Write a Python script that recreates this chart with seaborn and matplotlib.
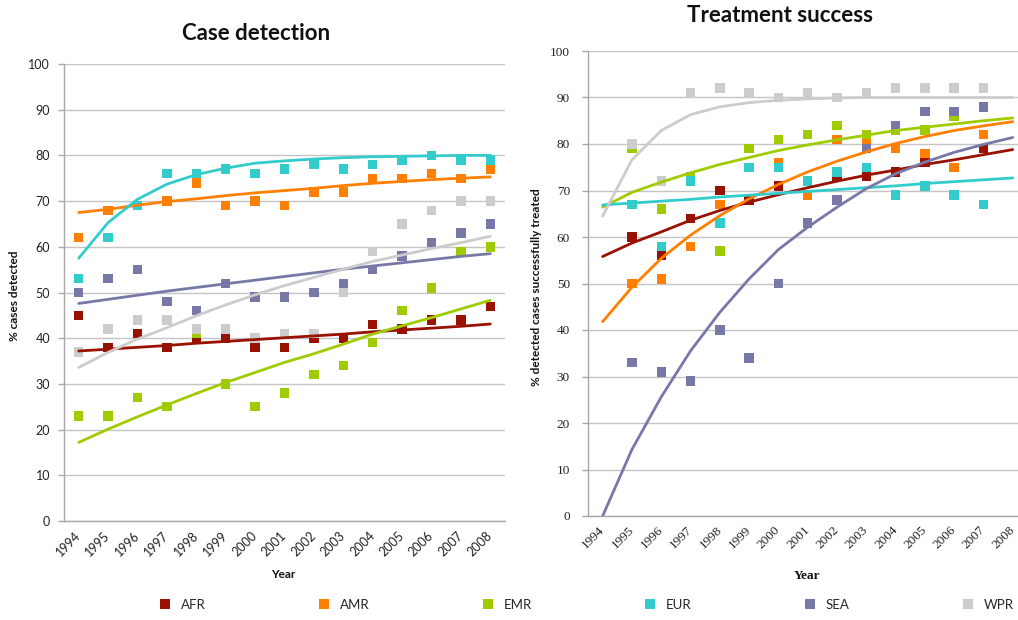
import numpy as np
import pandas as pd
import matplotlib
matplotlib.use("Agg")
import matplotlib.pyplot as plt
import seaborn as sns
from matplotlib.lines import Line2D
from matplotlib.ticker import FixedLocator

nan = np.nan

# ---------------- data ----------------
years = [str(y) for y in range(1994, 2009)]
regions = ["AFR", "AMR", "EMR", "EUR", "SEA", "WPR"]

# Case detection (% cases detected), 1994-2008
cd_afr = [45, 38, 41, 38, 40, 40, 38, 38, 40, 40, 43, 42, 44, 44, 47]
cd_amr = [62, 68, 69, 70, 74, 69, 70, 69, 72, 72, 75, 75, 76, 75, 77]
cd_emr = [23, 23, 27, 25, 41, 30, 25, 28, 32, 34, 39, 46, 51, 59, 60]
cd_eur = [53, 62, 69, 76, 76, 77, 76, 77, 78, 77, 78, 79, 80, 79, 79]
cd_sea = [50, 53, 55, 48, 46, 52, 49, 49, 50, 52, 55, 58, 61, 63, 65]
cd_wpr = [37, 42, 44, 44, 42, 42, 40, 41, 41, 50, 59, 65, 68, 70, 70]

# Case detection trend lines
cd_tr_afr = [37.2, 37.6, 38.0, 38.4, 38.9, 39.3, 39.7, 40.1, 40.5, 40.9, 41.4, 41.8, 42.2, 42.6, 43.1]
cd_tr_amr = [67.5, 68.2, 69.1, 69.9, 70.5, 71.2, 71.8, 72.3, 72.8, 73.4, 73.9, 74.3, 74.7, 75.0, 75.3]
cd_tr_emr = [17.2, 20.1, 22.8, 25.4, 27.9, 30.3, 32.5, 34.7, 36.6, 38.7, 40.9, 42.7, 44.5, 46.4, 48.3]
cd_tr_eur = [57.5, 65.3, 70.4, 73.7, 75.8, 77.2, 78.3, 78.8, 79.2, 79.5, 79.7, 79.8, 79.9, 80.0, 80.0]
cd_tr_sea = [47.6, 48.5, 49.4, 50.3, 51.1, 51.9, 52.7, 53.5, 54.3, 55.1, 55.8, 56.5, 57.2, 57.9, 58.5]
cd_tr_wpr = [33.6, 36.9, 39.8, 42.3, 44.9, 47.3, 49.5, 51.5, 53.3, 55.1, 56.8, 58.2, 59.6, 60.9, 62.3]

# Treatment success (% detected cases successfully treated), 1994-2008
ts_afr = [nan, 60, 56, 64, 70, 68, 71, 69, 73, 73, 74, 76, 75, 79, nan]
ts_amr = [nan, 50, 51, 58, 67, nan, 76, 69, 81, 80, 79, 78, 75, 82, nan]
ts_emr = [nan, 79, 66, 73, 57, 79, 81, 82, 84, 82, 83, 83, 86, nan, nan]
ts_eur = [nan, 67, 58, 72, 63, 75, 75, 72, 74, 75, 69, 71, 69, 67, nan]
ts_sea = [nan, 33, 31, 29, 40, 34, 50, 63, 68, 79, 84, 87, 87, 88, nan]
ts_wpr = [nan, 80, 72, 91, 92, 91, 90, 91, 90, 91, 92, 92, 92, 92, nan]

# Treatment success trend lines
ts_tr_afr = [55.8, 58.7, 61.1, 63.6, 65.7, 67.5, 69.1, 70.6, 72.0, 73.3, 74.4, 75.6, 76.6, 77.7, 78.8]
ts_tr_amr = [41.8, 49.2, 55.4, 60.4, 64.6, 68.2, 71.3, 74.0, 76.3, 78.3, 80.1, 81.6, 82.9, 83.9, 84.8]
ts_tr_emr = [66.4, 69.6, 71.8, 73.8, 75.6, 77.1, 78.6, 79.8, 80.9, 81.9, 82.9, 83.6, 84.3, 85.0, 85.6]
ts_tr_eur = [66.9, 67.3, 67.7, 68.1, 68.6, 69.0, 69.4, 69.8, 70.2, 70.6, 71.0, 71.5, 71.9, 72.3, 72.7]
ts_tr_sea = [0.0, 14.3, 25.6, 35.5, 43.8, 51.0, 57.3, 62.1, 66.4, 70.4, 73.6, 76.1, 78.2, 79.9, 81.4]
ts_tr_wpr = [64.5, 76.6, 82.9, 86.3, 88.0, 88.9, 89.4, 89.7, 89.9, 90.0, 90.0, 90.0, 90.0, 90.0, 90.0]

palette = {"AFR": "#991100", "AMR": "#FF7F00", "EMR": "#9FCC00",
           "EUR": "#33CCCC", "SEA": "#7878A8", "WPR": "#CCCCCC"}


def to_long(series):
    rows = []
    for reg, vals in zip(regions, series):
        for i, v in enumerate(vals):
            rows.append((reg, i, v))
    return pd.DataFrame(rows, columns=["region", "pos", "value"]).dropna()


cd_points = to_long([cd_afr, cd_amr, cd_emr, cd_eur, cd_sea, cd_wpr])
cd_trends = to_long([cd_tr_afr, cd_tr_amr, cd_tr_emr, cd_tr_eur, cd_tr_sea, cd_tr_wpr])
ts_points = to_long([ts_afr, ts_amr, ts_emr, ts_eur, ts_sea, ts_wpr])
ts_trends = to_long([ts_tr_afr, ts_tr_amr, ts_tr_emr, ts_tr_eur, ts_tr_sea, ts_tr_wpr])

# ---------------- figure ----------------
sns.set_theme(style="white")
plt.rcParams["font.family"] = ["Lato", "DejaVu Sans"]

W, H = 1018, 620
fig = plt.figure(figsize=(W / 100, H / 100), dpi=100)
fig.patch.set_facecolor("white")


def px_axes(x0, y_top, x1, y_bot):
    return fig.add_axes([x0 / W, 1 - y_bot / H, (x1 - x0) / W, (y_bot - y_top) / H])


ax1 = px_axes(64, 64, 505, 521)
ax2 = px_axes(588, 51, 1018, 516)

grid_c = "#C4C4C4"
spine_c = "#A8A8A8"


def style_axes(ax, points, trends, xmax, tick_font, tick_size, ypad, xpad):
    sns.scatterplot(data=points, x="pos", y="value", hue="region", hue_order=regions,
                    palette=palette, marker="s", s=46, linewidth=0, legend=False,
                    ax=ax, zorder=3)
    sns.lineplot(data=trends, x="pos", y="value", hue="region", hue_order=regions,
                 palette=palette, linewidth=2.0, legend=False, ax=ax, zorder=4)
    ax.set_xlim(-0.5, xmax)
    ax.set_ylim(0, 100)
    ax.set_yticks(np.arange(0, 101, 10))
    ax.yaxis.grid(True, color=grid_c, linewidth=1.0)
    ax.xaxis.grid(False)
    ax.set_axisbelow(True)
    for s in ["top", "right"]:
        ax.spines[s].set_visible(False)
    for s in ["left", "bottom"]:
        ax.spines[s].set_color(spine_c)
        ax.spines[s].set_linewidth(1.0)
    ax.set_xticks(range(len(years)))
    ax.set_xticklabels(years, rotation=45, ha="right", va="center",
                       rotation_mode="anchor", fontfamily=tick_font, fontsize=tick_size)
    ax.xaxis.set_minor_locator(FixedLocator(np.arange(-0.5, len(years), 1.0)))
    ax.tick_params(axis="x", which="major", length=0, pad=xpad)
    ax.tick_params(axis="x", which="minor", length=4, width=1, color=spine_c, direction="out")
    ax.tick_params(axis="y", which="major", length=4, width=1, color=spine_c,
                   direction="out", pad=ypad, labelsize=tick_size, left=True)
    for lab in ax.get_yticklabels():
        lab.set_fontfamily(tick_font)
        lab.set_color("#222222")
    for lab in ax.get_xticklabels():
        lab.set_color("#222222")
    ax.set_xlabel("")
    ax.set_ylabel("")


style_axes(ax1, cd_points, cd_trends, 14.5, "Lato", 9, 6, 9)
style_axes(ax2, ts_points, ts_trends, 14.18, "Liberation Serif", 9.5, 9, 9)

# titles and axis labels
fig.text(256 / W, 1 - 34 / H, "Case detection", ha="center", va="center",
         fontsize=16, fontweight="bold", color="#111111")
fig.text(780 / W, 1 - 16 / H, "Treatment success", ha="center", va="center",
         fontsize=16, fontweight="bold", color="#111111")
fig.text(15 / W, 1 - 296 / H, "% cases detected", rotation=90, ha="center", va="center",
         fontsize=8.5, fontweight="bold", color="#111111")
fig.text(537 / W, 1 - 287 / H, "% detected cases successfully treated", rotation=90,
         ha="center", va="center", fontsize=8.5, fontweight="bold", color="#111111")
fig.text(283 / W, 1 - 574 / H, "Year", ha="center", va="center",
         fontsize=8.5, fontweight="bold", color="#111111")
fig.text(807 / W, 1 - 576 / H, "Year", ha="center", va="center",
         fontsize=9.5, fontweight="bold", fontfamily="Liberation Serif", color="#111111")

# legend
handles = [Line2D([0], [0], marker="s", linestyle="none", markersize=6.5,
                  markerfacecolor=palette[r], markeredgewidth=0) for r in regions]
fig.legend(handles, regions, loc="center",
           bbox_to_anchor=(156 / W, 1 - 618 / H, (1016 - 156) / W, 26 / H),
           mode="expand", ncol=6, frameon=False, fontsize=9.5, handletextpad=0.7,
           borderaxespad=0.0, borderpad=0.2, handlelength=1.0)

fig.savefig("out.png", dpi=100, facecolor="white")
